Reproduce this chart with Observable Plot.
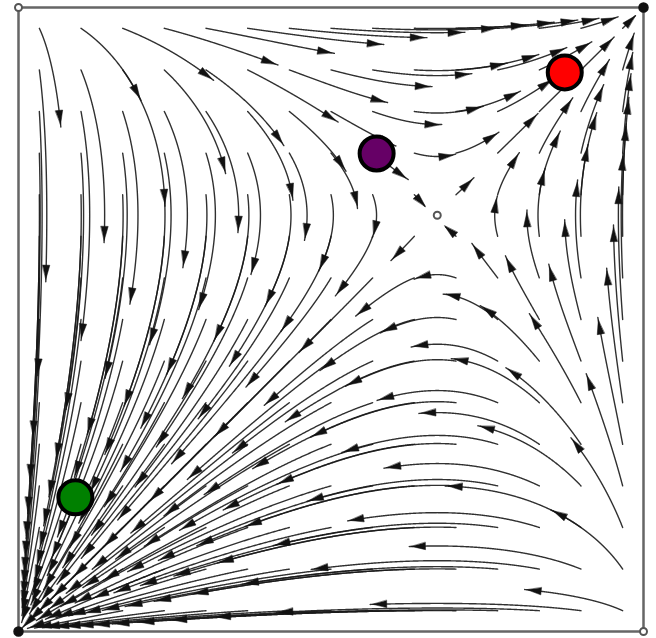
<!DOCTYPE html>
<html><head><meta charset="utf-8">
<script src="https://cdn.jsdelivr.net/npm/d3@7"></script>
<script src="https://cdn.jsdelivr.net/npm/@observablehq/plot@0.6"></script>
<style>body{margin:0;background:#fff}</style>
</head><body><div id="chart"></div>
<script>
// Rest points of the dynamics
const restX = [0, 1, 0, 1, 0.67];
const restY = [0, 1, 1, 0, 0.667];
const restKind = ["sink", "sink", "source", "source", "saddle"];

// Highlighted states
const stateNames = ["green", "purple", "red"];
const stateX = [0.091, 0.573, 0.874];
const stateY = [0.215, 0.766, 0.896];
const stateColors = ["#008000", "#660066", "#ff0000"];

// Stream plot settings
const seedsPerSide = 15;
const flowTime = 3.1;
const arrowBack = 0.016;

// Interior saddle defines the field (coordination game replicator dynamics)
const sx = restX[4], sy = restY[4];
function field(x, y) {
  return [x * (1 - x) * (y - sy), y * (1 - y) * (x - sx)];
}
function trace(x0, y0, T) {
  const dt = 0.01;
  const pts = [[x0, y0, 0]];
  let x = x0, y = y0, s = 0, t = 0;
  while (t < T) {
    const k1 = field(x, y);
    const k2 = field(x + dt / 2 * k1[0], y + dt / 2 * k1[1]);
    const k3 = field(x + dt / 2 * k2[0], y + dt / 2 * k2[1]);
    const k4 = field(x + dt * k3[0], y + dt * k3[1]);
    const nx = x + dt / 6 * (k1[0] + 2 * k2[0] + 2 * k3[0] + k4[0]);
    const ny = y + dt / 6 * (k1[1] + 2 * k2[1] + 2 * k3[1] + k4[1]);
    if (nx < 0 || nx > 1 || ny < 0 || ny > 1) break;
    s += Math.hypot(nx - x, ny - y);
    x = nx; y = ny; t += dt;
    pts.push([x, y, s]);
  }
  return pts;
}

const linePts = [];
const arrows = [];
let id = 0;
for (let i = 0; i < seedsPerSide; i++) {
  for (let j = 0; j < seedsPerSide; j++) {
    const x0 = (i + 0.5) / seedsPerSide, y0 = (j + 0.5) / seedsPerSide;
    const pts = trace(x0, y0, flowTime);
    const total = pts[pts.length - 1][2];
    if (total < 0.01) continue;
    pts.forEach(p => linePts.push({id, x: p[0], y: p[1]}));
    const target = Math.max(total - arrowBack, total * 0.6);
    let k = pts.findIndex(p => p[2] >= target);
    if (k < 1) k = pts.length - 1;
    const [u, v] = field(pts[k][0], pts[k][1]);
    arrows.push({x: pts[k][0], y: pts[k][1], angle: Math.atan2(u, v) * 180 / Math.PI});
    id++;
  }
}

const triangle = {
  draw(context, l, r) {
    const w = 3.6;
    context.moveTo(0, -l);
    context.lineTo(-w, 0);
    context.lineTo(w, 0);
    context.closePath();
  }
};

const rest = restX.map((x, i) => ({x, y: restY[i], kind: restKind[i]}));
const states = stateNames.map((n, i) => ({name: n, x: stateX[i], y: stateY[i], color: stateColors[i]}));

const chart = Plot.plot({
  width: 656,
  height: 638,
  marginLeft: 18,
  marginRight: 13,
  marginTop: 7,
  marginBottom: 7,
  x: {domain: [0, 1], axis: null},
  y: {domain: [0, 1], axis: null},
  marks: [
    Plot.line(linePts, {x: "x", y: "y", z: "id", stroke: "#1a1a1a", strokeWidth: 1.4, strokeOpacity: 0.9}),
    Plot.vector(arrows, {x: "x", y: "y", rotate: "angle", length: 14, anchor: "middle", shape: triangle, fill: "#111", stroke: "#111", strokeWidth: 0.5}),
    Plot.frame({stroke: "#666", strokeWidth: 2.5}),
    Plot.dot(rest.filter(d => d.kind === "sink"), {x: "x", y: "y", r: 4.5, fill: "#111", stroke: "#111"}),
    Plot.dot(rest.filter(d => d.kind !== "sink"), {x: "x", y: "y", r: 3.5, fill: "white", stroke: "#555", strokeWidth: 2}),
    Plot.dot(states, {x: "x", y: "y", r: 17, fill: "color", stroke: "black", strokeWidth: 4})
  ]
});
document.getElementById("chart").append(chart);
</script>
</body></html>
